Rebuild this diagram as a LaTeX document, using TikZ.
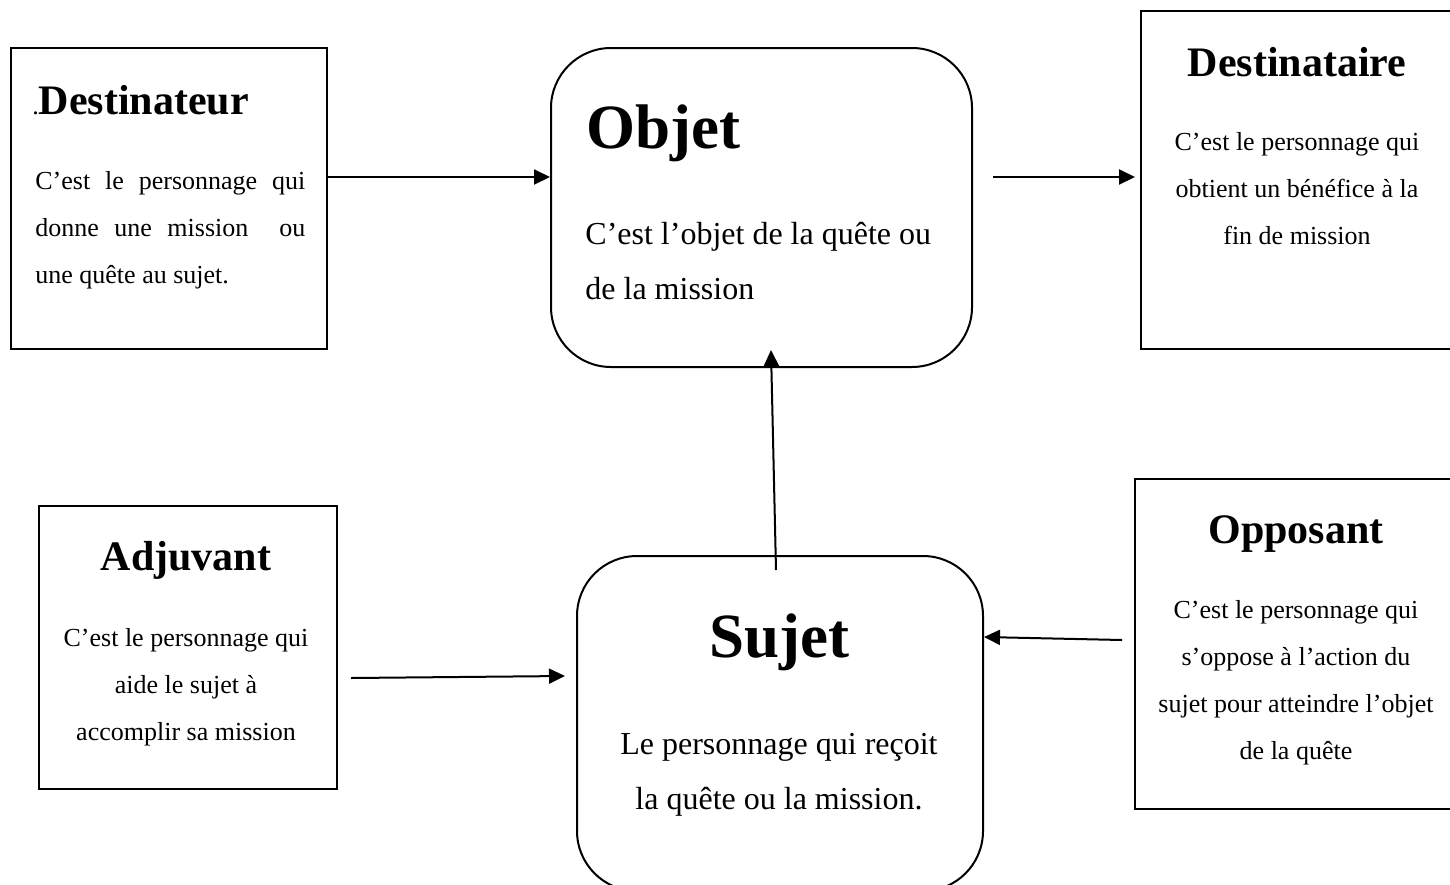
\documentclass[tikz,border=0pt]{standalone}
\usepackage{fontspec}
\setmainfont{Liberation Serif}
\usetikzlibrary{arrows.meta}
\tikzset{
  x=0.5pt, y=-0.5pt,
  box/.style={draw, line width=1pt, inner sep=0pt, anchor=north west},
  rbox/.style={box, rounded corners=30pt},
  txt/.style={inner sep=0pt, anchor=base},
  txtl/.style={inner sep=0pt, anchor=base west},
  ttl/.style={font=\fontsize{21}{21}\selectfont\bfseries},
  bigttl/.style={font=\fontsize{31.5}{31.5}\selectfont\bfseries},
  smbody/.style={font=\fontsize{13}{23.5}\selectfont},
  bgbody/.style={font=\fontsize{16}{27.5}\selectfont},
  arr/.style={line width=1pt, -{Triangle[length=8pt,width=7.5pt]}},
}
\begin{document}
\begin{tikzpicture}
\useasboundingbox (0,0) rectangle (1450,884);
\clip (0,0) rectangle (1450,884);
% boxes
\node[box, minimum width=158pt, minimum height=150.5pt] (dteur) at (10,47) {};
\node[rbox, minimum width=210.5pt, minimum height=159.5pt] (objet) at (550,47) {};
\node[box, minimum width=160pt, minimum height=169pt] (dtaire) at (1140,10) {};
\node[box, minimum width=149pt, minimum height=141.5pt] (adj) at (38,505) {};
\node[rbox, minimum width=203pt, minimum height=167.5pt] (sujet) at (576,555) {};
\node[box, minimum width=163pt, minimum height=165pt] (opp) at (1134,478) {};
% texts
\node[txtl] (dteurT) at (32,114) {{\fontsize{13}{13}\selectfont.}{\fontsize{21}{21}\selectfont\bfseries Destinateur}};
\node[txtl, smbody] (dteurB) at (35,189) {\parbox[t]{135pt}{C’est le personnage qui\linebreak donne une mission ~ou\linebreak une quête au sujet.}};
\node[txtl, bigttl] (objetT) at (586,148) {Objet};
\node[txtl, bgbody] (objetB) at (585,244) {\parbox[t]{200pt}{\raggedright C’est l’objet de la quête ou\\ de la mission}};
\node[txt, ttl] (dtaireT) at (1297,76) {Destinataire};
\node[txt, smbody] (dtaireB) at (1297,150) {\parbox[t]{150pt}{\centering C’est le personnage qui\\ obtient un bénéfice à la\\ fin de mission}};
\node[txt, ttl] (adjT) at (186,570) {Adjuvant};
\node[txt, smbody] (adjB) at (186,646) {\parbox[t]{145pt}{\centering C’est le personnage qui\\ aide le sujet à\\ accomplir sa mission}};
\node[txt, bigttl] (sujetT) at (779,657) {Sujet};
\node[txt, bgbody] (sujetB) at (779,754) {\parbox[t]{200pt}{\centering Le personnage qui reçoit\\ la quête ou la mission.}};
\node[txt, ttl] (oppT) at (1296,543) {Opposant};
\node[txt, smbody] (oppB) at (1296,618) {\parbox[t]{160pt}{\centering C’est le personnage qui\\ s’oppose à l’action du\\ sujet pour atteindre l’objet\\ de la quête}};
% connector ends
\coordinate (a1s) at (326,177); \coordinate (a1e) at (550,177);
\coordinate (a2s) at (993,177); \coordinate (a2e) at (1135,177);
\coordinate (a3s) at (776,570); \coordinate (a3e) at (771,350);
\coordinate (a4s) at (351,678); \coordinate (a4e) at (565,676);
\coordinate (a5s) at (1122,640); \coordinate (a5e) at (984,637);
\draw[arr] (a1s) -- (a1e);
\draw[arr] (a2s) -- (a2e);
\draw[arr] (a3s) -- (a3e);
\draw[arr] (a4s) -- (a4e);
\draw[arr] (a5s) -- (a5e);
\end{tikzpicture}
\end{document}
